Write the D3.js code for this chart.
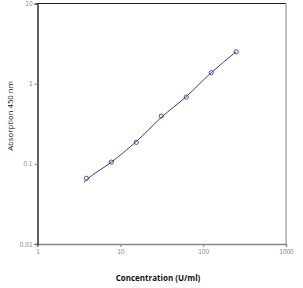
<!DOCTYPE html>
<html>
<head>
<meta charset="utf-8">
<script src="https://cdn.jsdelivr.net/npm/d3@7"></script>
<style>
  body { margin: 0; background: #fff; }
  svg { display: block; font-family: "Open Sans", "DejaVu Sans", sans-serif; }
</style>
</head>
<body>
<svg id="chart" width="303" height="288"></svg>
<script>
// standard curve data
const concentration = [3.9, 7.8, 15.6, 31.25, 62.5, 125, 250];
const absorption = [0.066, 0.105, 0.185, 0.394, 0.68, 1.37, 2.5];
// fitted line, drawn a touch past the first point
const fitConc = [3.64, 3.9, 7.8, 15.6, 31.25, 62.5, 125, 250];
const fitAbs = [0.059, 0.063, 0.105, 0.19, 0.38, 0.69, 1.37, 2.5];
const xTicks = [1, 10, 100, 1000];
const yTicks = [0.01, 0.1, 1, 10];

const svg = d3.select("#chart");
const plotL = 37.5, plotR = 286, plotT = 3.5, plotB = 244;

const x = d3.scaleLog().domain([1, 1000]).range([plotL, plotR]);
const y = d3.scaleLog().domain([0.01, 10]).range([plotB, plotT]);

// frame: top + right
svg.append("line").attr("x1", plotL).attr("x2", plotR).attr("y1", plotT).attr("y2", plotT)
  .attr("stroke", "#222").attr("stroke-width", 1.2);
svg.append("line").attr("x1", plotR).attr("x2", plotR).attr("y1", plotT).attr("y2", plotB)
  .attr("stroke", "#999").attr("stroke-width", 1.2);

// x axis
const xAxis = svg.append("g").attr("transform", "translate(0," + plotB + ")")
  .call(d3.axisBottom(x).tickValues(xTicks).tickFormat(d3.format("")).tickSize(3).tickPadding(2));
xAxis.select(".domain").attr("stroke", "#888").attr("stroke-width", 1.4);
xAxis.selectAll(".tick line").attr("stroke", "#888");
xAxis.selectAll("text").attr("fill", "#888").style("font-size", "6.5px");

// y axis
const yAxis = svg.append("g").attr("transform", "translate(" + plotL + ",0)")
  .call(d3.axisLeft(y).tickValues(yTicks).tickFormat(d3.format("")).tickSize(3).tickPadding(2));
yAxis.select(".domain").attr("stroke", "#222").attr("stroke-width", 1.4);
yAxis.selectAll(".tick line").attr("stroke", "#888");
yAxis.selectAll("text").attr("fill", "#888").style("font-size", "6.5px");

// fitted curve
const line = d3.line().x((d, i) => x(fitConc[i])).y(d => y(d)).curve(d3.curveMonotoneX);
svg.append("path").datum(fitAbs).attr("d", line)
  .attr("fill", "none").attr("stroke", "#26265e").attr("stroke-width", 0.9);

// points
svg.selectAll("circle.pt").data(absorption).enter().append("circle")
  .attr("class", "pt")
  .attr("cx", (d, i) => x(concentration[i]))
  .attr("cy", d => y(d))
  .attr("r", 2.1)
  .attr("fill", "none").attr("stroke", "#4a4aa8").attr("stroke-width", 1);

// axis titles
svg.append("text").attr("x", 158).attr("y", 281).attr("text-anchor", "middle")
  .style("font-size", "8px").style("font-weight", "bold").attr("fill", "#111")
  .text("Concentration (U/ml)");
svg.append("text").attr("transform", "translate(13,116) rotate(-90)").attr("text-anchor", "middle")
  .style("font-size", "7.8px").attr("fill", "#111")
  .text("Absorption 450 nm");
</script>
</body>
</html>
